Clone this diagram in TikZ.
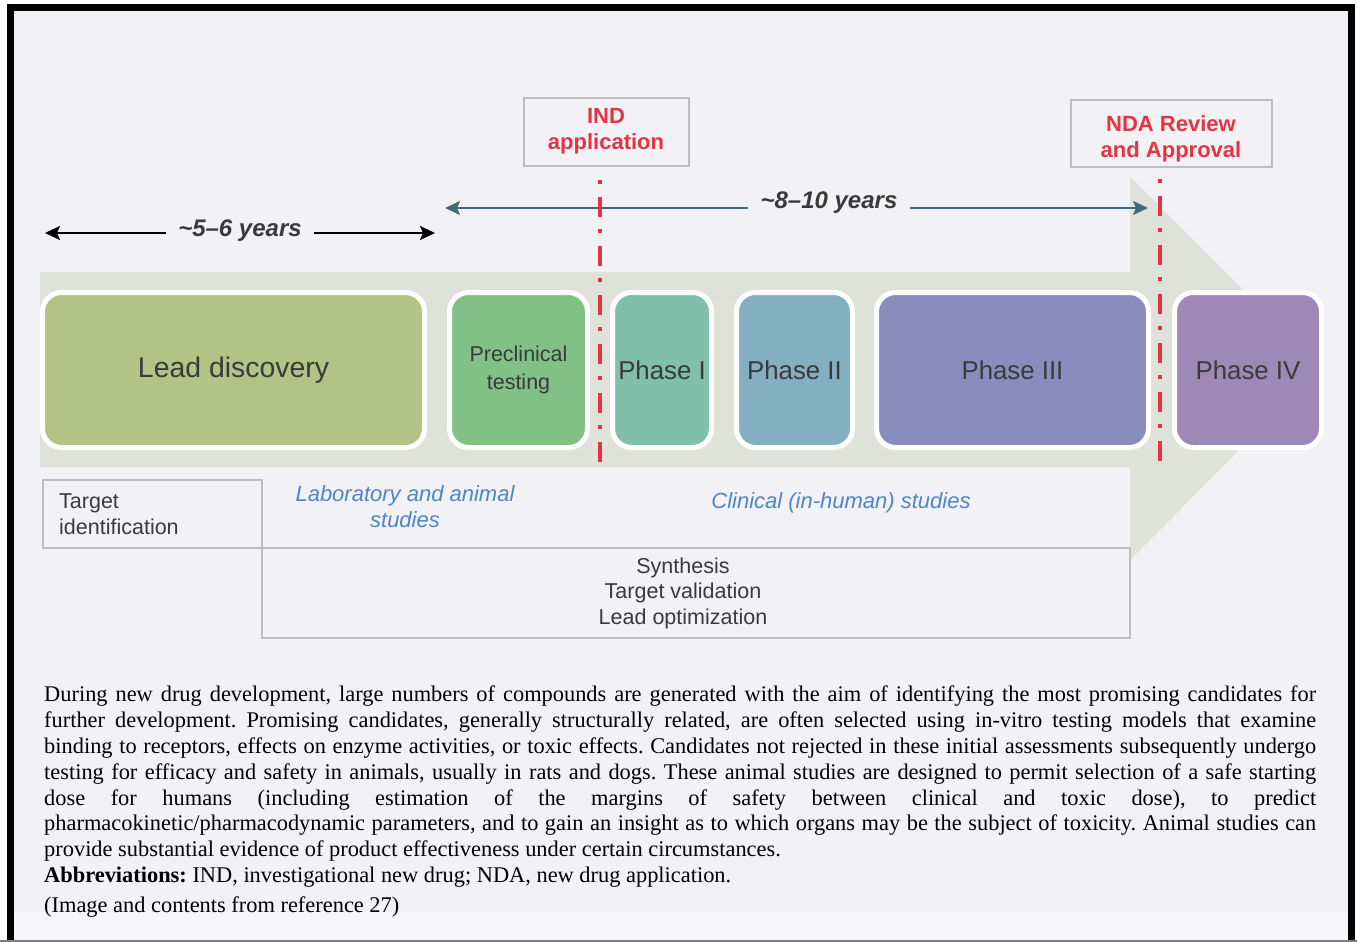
\documentclass[tikz,border=0pt]{standalone}
\usepackage{fontspec}
\setmainfont{Liberation Serif}
\newfontfamily\sansf{Liberation Sans}
\usetikzlibrary{arrows.meta}
\definecolor{bg}{HTML}{F2F1F6}
\definecolor{bgtwo}{HTML}{F6F5F9}
\definecolor{band}{HTML}{DEE2D9}
\definecolor{leadc}{HTML}{B2C385}
\definecolor{preclc}{HTML}{82C185}
\definecolor{phonec}{HTML}{80BFAA}
\definecolor{phtwoc}{HTML}{84AFC0}
\definecolor{phthreec}{HTML}{888DBD}
\definecolor{phfourc}{HTML}{9E88B8}
\definecolor{txt}{HTML}{3A3A3A}
\definecolor{bluet}{HTML}{4E86C7}
\definecolor{redc}{HTML}{E63342}
\definecolor{tealc}{HTML}{3E6B80}
\definecolor{boxgray}{HTML}{BDBDBD}
\begin{document}
\begin{tikzpicture}[x=1pt,y=-1pt,
  phasebox/.style={rounded corners=19pt, fill=#1, draw=white, line width=5pt,
    minimum height=155pt, inner sep=0pt, text=txt, align=center,
    font=\sansf\fontsize{25.8}{28}\selectfont},
  milestone/.style={draw=boxgray, line width=1.3pt, fill=bg, inner sep=0pt},
  milestonetext/.style={inner sep=0pt, text=redc, align=center,
    font=\sansf\bfseries\fontsize{22}{26.5}\selectfont},
  reddash/.style={draw=redc, line width=3.5pt, dash pattern=on 4pt off 13pt on 20pt off 12pt},
  yearlbl/.style={fill=bg, inner ysep=2pt, inner xsep=12pt, text=txt,
    font=\sansf\bfseries\itshape\fontsize{24}{28}\selectfont},
  yeararrow/.style={line width=1.8pt, {Stealth[length=15pt,width=14pt,inset=3pt]}-{Stealth[length=15pt,width=14pt,inset=3pt]}},
  lowbox/.style={draw=boxgray, line width=1.3pt, inner sep=0pt},
  sanstext/.style={inner sep=0pt, text=txt, align=center, font=\sansf\fontsize{21.5}{26}\selectfont},
  bluetext/.style={inner sep=0pt, text=bluet, align=center, font=\sansf\itshape\fontsize{22}{26}\selectfont}
]
\useasboundingbox (0,0) rectangle (1357,942);
% frame and background
\fill[white] (0,0) rectangle (1357,942);
\fill[black] (7,4) rectangle (1355,960);
\fill[bg] (14,11) rectangle (1348,960);
\fill[bgtwo] (14,912) rectangle (1348,940);
\draw[gray, line width=1.5pt] (0,941) -- (1357,941);

% big process arrow
\fill[band] (40,272) -- (1130,272) -- (1130,177) -- (1321,368) -- (1130,560) -- (1130,467) -- (40,467) -- cycle;

% phase boxes
\node[phasebox=leadc, minimum width=382pt, font=\sansf\fontsize{28.4}{30}\selectfont] (lead) at (233.5,370) {Lead discovery};
\node[phasebox=preclc, minimum width=138pt, font=\sansf\fontsize{21.5}{28}\selectfont] (precl) at (518.5,370) {Preclinical\\testing};
\node[phasebox=phonec, minimum width=99pt] (ph1) at (662,370) {Phase I};
\node[phasebox=phtwoc, minimum width=116pt] (ph2) at (794.5,370) {Phase II};
\node[phasebox=phthreec, minimum width=272pt] (ph3) at (1012.5,370) {Phase III};
\node[phasebox=phfourc, minimum width=147pt] (ph4) at (1248,370) {Phase IV};

% milestone boxes
\node[milestone, minimum width=165pt, minimum height=68pt] (ind) at (606.5,132) {};
\node[milestonetext] (indt) at (606,131) {IND\\application};
\node[milestone, minimum width=201pt, minimum height=67pt] (nda) at (1171.5,133.5) {};
\node[milestonetext] (ndat) at (1171,139) {NDA Review\\and Approval};

% year arrows
\coordinate (yal) at (45,233);
\coordinate (yar) at (435,233);
\draw[yeararrow, draw=black, fill=black] (yal) -- (yar);
\node[yearlbl] (ya) at (240,231) {\textasciitilde5–6 years};

\coordinate (ybl) at (445,208);
\coordinate (ybr) at (1148,208);
\draw[yeararrow, draw=tealc, fill=tealc] (ybl) -- (ybr);
\node[yearlbl, inner xsep=13pt] (yb) at (829,203) {\textasciitilde8–10 years};

% milestone dashed lines
\coordinate (indtop) at (600,180);
\coordinate (indbot) at (600,465);
\draw[reddash] (indtop) -- (indbot);
\coordinate (ndatop) at (1160,179);
\coordinate (ndabot) at (1160,465);
\draw[reddash] (ndatop) -- (ndabot);

% lower boxes
\node[lowbox, minimum width=219pt, minimum height=68pt] (target) at (152.5,514) {};
\node[sanstext, anchor=west, align=left] (targett) at (59,514) {Target\\identification};
\node[lowbox, minimum width=868pt, minimum height=90pt] (synth) at (696,593) {};
\node[sanstext, font=\sansf\fontsize{21.5}{25.5}\selectfont] (syntht) at (683,593) {Synthesis\\Target validation\\Lead optimization};
\node[bluetext] (lab) at (405,507) {Laboratory and animal\\studies};
\node[bluetext] (clin) at (841,503) {Clinical (in-human) studies};

% caption paragraph
\node[anchor=north west, inner sep=0pt, text width=1272pt, align=justify,
  font=\fontsize{22.4}{25.9}\selectfont, text=black] (para) at (44,685.5) {%
\parindent=0pt\hyphenpenalty=10000\exhyphenpenalty=10000\frenchspacing
During new drug development, large numbers of compounds are generated with the aim of identifying the most promising candidates for\linebreak
further development. Promising candidates, generally structurally related, are often selected using in-vitro testing models that examine\linebreak
binding to receptors, effects on enzyme activities, or toxic effects. Candidates not rejected in these initial assessments subsequently undergo\linebreak
testing for efficacy and safety in animals, usually in rats and dogs. These animal studies are designed to permit selection of a safe starting\linebreak
dose for humans (including estimation of the margins of safety between clinical and toxic dose), to predict\linebreak
pharmacokinetic/pharmacodynamic parameters, and to gain an insight as to which organs may be the subject of toxicity. Animal studies can\linebreak
provide substantial evidence of product effectiveness under certain circumstances.\par
\textbf{Abbreviations:} IND, investigational new drug; NDA, new drug application.\par
\vspace{3.5pt}(Image and contents from reference 27)\par};
\end{tikzpicture}
\end{document}
